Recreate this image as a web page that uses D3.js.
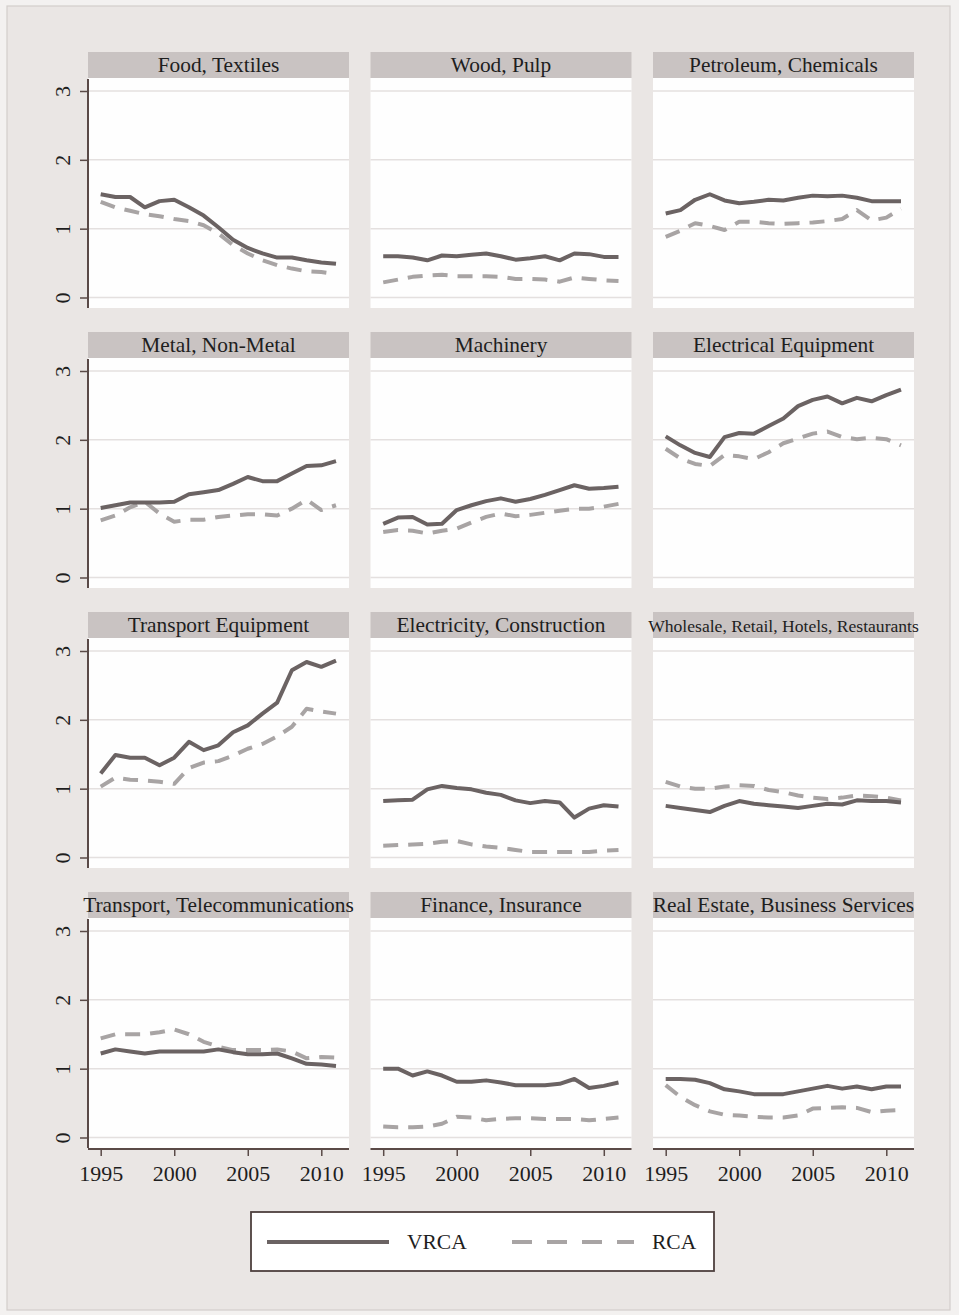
<!DOCTYPE html>
<html>
<head>
<meta charset="utf-8">
<script src="https://cdn.jsdelivr.net/npm/d3@7"></script>
<style>
  html, body { margin: 0; padding: 0; background: #f3f1f0; }
  svg { display: block; font-family: "Liberation Serif", "DejaVu Serif", serif; }
</style>
</head>
<body>
<svg id="chart" width="959" height="1315"></svg>
<script>
// ---------- data ----------
const years = [1995,1996,1997,1998,1999,2000,2001,2002,2003,2004,2005,2006,2007,2008,2009,2010,2011];
const yTicks = [0, 1, 2, 3];
const xTicks = [1995, 2000, 2005, 2010];
const seriesNames = ["VRCA", "RCA"];
const sectors = [
  "Food, Textiles", "Wood, Pulp", "Petroleum, Chemicals",
  "Metal, Non-Metal", "Machinery", "Electrical Equipment",
  "Transport Equipment", "Electricity, Construction", "Wholesale, Retail, Hotels, Restaurants",
  "Transport, Telecommunications", "Finance, Insurance", "Real Estate, Business Services"
];

const foodVRCA = [1.50,1.46,1.46,1.31,1.40,1.42,1.31,1.19,1.02,0.84,0.72,0.64,0.58,0.58,0.54,0.51,0.49];
const foodRCA  = [1.39,1.31,1.26,1.21,1.18,1.14,1.11,1.05,0.93,0.76,0.64,0.54,0.47,0.42,0.38,0.37,0.34];
const woodVRCA = [0.60,0.60,0.58,0.54,0.61,0.60,0.62,0.64,0.60,0.55,0.57,0.60,0.54,0.64,0.63,0.59,0.59];
const woodRCA  = [0.22,0.26,0.30,0.32,0.33,0.31,0.31,0.31,0.30,0.27,0.27,0.26,0.23,0.29,0.27,0.25,0.24];
const petroVRCA = [1.22,1.27,1.42,1.50,1.41,1.37,1.39,1.42,1.41,1.45,1.48,1.47,1.48,1.45,1.40,1.40,1.40];
const petroRCA  = [0.88,0.97,1.08,1.04,0.98,1.10,1.10,1.08,1.07,1.08,1.09,1.11,1.14,1.27,1.12,1.16,1.29];
const metalVRCA = [1.01,1.05,1.09,1.09,1.09,1.10,1.21,1.24,1.27,1.36,1.46,1.40,1.40,1.51,1.62,1.63,1.69];
const metalRCA  = [0.83,0.90,1.02,1.10,0.93,0.81,0.84,0.84,0.88,0.90,0.92,0.92,0.90,1.00,1.13,0.98,1.05];
const machVRCA = [0.78,0.87,0.88,0.77,0.78,0.98,1.05,1.11,1.15,1.10,1.14,1.20,1.27,1.34,1.29,1.30,1.32];
const machRCA  = [0.66,0.69,0.68,0.64,0.68,0.71,0.80,0.88,0.93,0.89,0.91,0.94,0.97,1.00,1.00,1.03,1.07];
const elecVRCA = [2.05,1.92,1.81,1.75,2.04,2.10,2.09,2.20,2.31,2.49,2.58,2.63,2.53,2.61,2.56,2.65,2.73];
const elecRCA  = [1.87,1.73,1.65,1.62,1.78,1.76,1.72,1.82,1.95,2.02,2.09,2.12,2.04,2.01,2.03,2.01,1.92];
const trEqVRCA = [1.22,1.49,1.45,1.45,1.34,1.45,1.68,1.56,1.63,1.82,1.92,2.09,2.25,2.72,2.84,2.77,2.86];
const trEqRCA  = [1.03,1.16,1.13,1.12,1.10,1.07,1.30,1.38,1.40,1.48,1.58,1.65,1.76,1.90,2.16,2.12,2.09];
const constrVRCA = [0.82,0.83,0.84,0.99,1.04,1.01,0.99,0.94,0.91,0.83,0.79,0.82,0.80,0.58,0.71,0.76,0.74];
const constrRCA  = [0.17,0.18,0.19,0.20,0.23,0.24,0.19,0.16,0.14,0.11,0.08,0.08,0.08,0.08,0.08,0.10,0.11];
const wholeVRCA = [0.75,0.72,0.69,0.66,0.75,0.82,0.78,0.76,0.74,0.72,0.75,0.78,0.77,0.83,0.82,0.82,0.80];
const wholeRCA  = [1.10,1.03,1.00,1.00,1.03,1.05,1.04,0.98,0.95,0.90,0.87,0.85,0.87,0.90,0.89,0.87,0.83];
const telecomVRCA = [1.22,1.28,1.25,1.22,1.25,1.25,1.25,1.25,1.28,1.24,1.21,1.21,1.22,1.15,1.07,1.06,1.04];
const telecomRCA  = [1.44,1.50,1.50,1.50,1.53,1.57,1.50,1.39,1.32,1.27,1.27,1.27,1.28,1.25,1.15,1.17,1.16];
const financeVRCA = [1.00,1.00,0.90,0.96,0.90,0.81,0.81,0.83,0.80,0.76,0.76,0.76,0.78,0.85,0.72,0.75,0.80];
const financeRCA  = [0.16,0.15,0.15,0.16,0.20,0.30,0.29,0.25,0.27,0.28,0.28,0.27,0.27,0.27,0.25,0.27,0.29];
const realVRCA = [0.85,0.85,0.84,0.79,0.70,0.67,0.63,0.63,0.63,0.67,0.71,0.75,0.71,0.74,0.70,0.74,0.74];
const realRCA  = [0.76,0.59,0.47,0.38,0.33,0.32,0.30,0.29,0.29,0.32,0.42,0.43,0.44,0.43,0.37,0.39,0.40];

const vrcaList = [foodVRCA, woodVRCA, petroVRCA, metalVRCA, machVRCA, elecVRCA, trEqVRCA, constrVRCA, wholeVRCA, telecomVRCA, financeVRCA, realVRCA];
const rcaList  = [foodRCA, woodRCA, petroRCA, metalRCA, machRCA, elecRCA, trEqRCA, constrRCA, wholeRCA, telecomRCA, financeRCA, realRCA];

// ---------- styling / layout ----------
const W = 959, H = 1315;
const colLeft0 = 88, colPitch = 282.5, plotW = 261;
const rowTop0 = 52, rowPitch = 280;
const headerH = 26, plotBottomOff = 256;
const axisColor = "#5a4a47";
const gridColor = "#e4e0df";
const headerFill = "#c9c3c2";
const textColor = "#1e1e1e";
const seriesStyle = {
  VRCA: { color: "#6b6363", width: 4, dash: null },
  RCA:  { color: "#a8a4a4", width: 4, dash: "15,10" }
};

const svg = d3.select("#chart");

// outer graph region
svg.append("rect").attr("x", 0).attr("y", 0).attr("width", W).attr("height", H).attr("fill", "#f3f1f0");
svg.append("rect").attr("x", 7).attr("y", 6).attr("width", 943).attr("height", 1304)
  .attr("fill", "#eae6e4").attr("stroke", "#d3cdcb").attr("stroke-width", 1.2);

sectors.forEach((name, i) => {
  const r = Math.floor(i / 3), c = i % 3;
  const left = colLeft0 + c * colPitch;
  const top = rowTop0 + r * rowPitch;
  const x = d3.scaleLinear().domain([1995, 2011]).range([left + 12.7, left + 248]);
  const y = d3.scaleLinear().domain([0, 3]).range([top + 245.5, top + 39]);
  const g = svg.append("g");

  // header strip
  g.append("rect").attr("x", left).attr("y", top).attr("width", plotW).attr("height", headerH)
    .attr("fill", headerFill);
  g.append("text").attr("x", left + plotW / 2).attr("y", top + 20)
    .attr("text-anchor", "middle").attr("fill", textColor)
    .attr("font-size", name.length > 32 ? 17.6 : 21.4)
    .text(name);

  // plot region
  g.append("rect").attr("x", left).attr("y", top + headerH).attr("width", plotW)
    .attr("height", plotBottomOff - headerH).attr("fill", "#fefefe");

  // gridlines
  g.selectAll("line.grid").data(yTicks).join("line").attr("class", "grid")
    .attr("x1", left).attr("x2", left + plotW)
    .attr("y1", d => y(d)).attr("y2", d => y(d))
    .attr("stroke", gridColor).attr("stroke-width", 1.5);

  // series lines
  const line = d3.line().x((d, k) => x(years[k])).y(d => y(d));
  [["RCA", rcaList[i]], ["VRCA", vrcaList[i]]].forEach(([s, vals]) => {
    const st = seriesStyle[s];
    g.append("path").datum(vals).attr("d", line)
      .attr("fill", "none").attr("stroke", st.color).attr("stroke-width", st.width)
      .attr("stroke-linejoin", "round")
      .attr("stroke-dasharray", st.dash);
  });

  // y axis (left column)
  if (c === 0) {
    const ay = g.append("g").attr("transform", `translate(${left},0)`)
      .call(d3.axisLeft(y).tickValues(yTicks).tickSize(8).tickFormat(d3.format("d")));
    ay.select(".domain").attr("d", `M0,${top + headerH + 1}V${top + plotBottomOff}`)
      .attr("stroke", axisColor).attr("stroke-width", 2);
    ay.selectAll(".tick line").attr("stroke", axisColor).attr("stroke-width", 1.5);
    ay.selectAll(".tick text")
      .attr("x", null).attr("dy", null)
      .attr("transform", "translate(-18,0) rotate(-90)")
      .attr("text-anchor", "middle")
      .attr("font-size", 22).attr("font-family", "Liberation Serif").attr("fill", textColor);
  }
  // x axis (bottom row)
  if (r === 3) {
    const ax = g.append("g").attr("transform", `translate(0,${top + plotBottomOff + 1})`)
      .call(d3.axisBottom(x).tickValues(xTicks).tickSize(7).tickFormat(d3.format("d")).tickPadding(9));
    ax.select(".domain").attr("d", `M${left},0H${left + plotW}`)
      .attr("stroke", axisColor).attr("stroke-width", 2);
    ax.selectAll(".tick line").attr("stroke", axisColor).attr("stroke-width", 1.5);
    ax.selectAll(".tick text")
      .attr("font-size", 22).attr("font-family", "Liberation Serif").attr("fill", textColor);
  }
});

// legend
const leg = svg.append("g");
leg.append("rect").attr("x", 251).attr("y", 1212).attr("width", 463).attr("height", 59)
  .attr("fill", "#ffffff").attr("stroke", "#4e403e").attr("stroke-width", 1.8);
const legX = [267, 512];
seriesNames.forEach((s, k) => {
  const st = seriesStyle[s];
  leg.append("line").attr("x1", legX[k]).attr("x2", legX[k] + 122)
    .attr("y1", 1242).attr("y2", 1242)
    .attr("stroke", st.color).attr("stroke-width", st.width)
    .attr("stroke-dasharray", st.dash ? "20,15" : null);
  leg.append("text").attr("x", legX[k] + 140).attr("y", 1249)
    .attr("font-size", 21.5).attr("fill", textColor).text(s);
});
</script>
</body>
</html>
